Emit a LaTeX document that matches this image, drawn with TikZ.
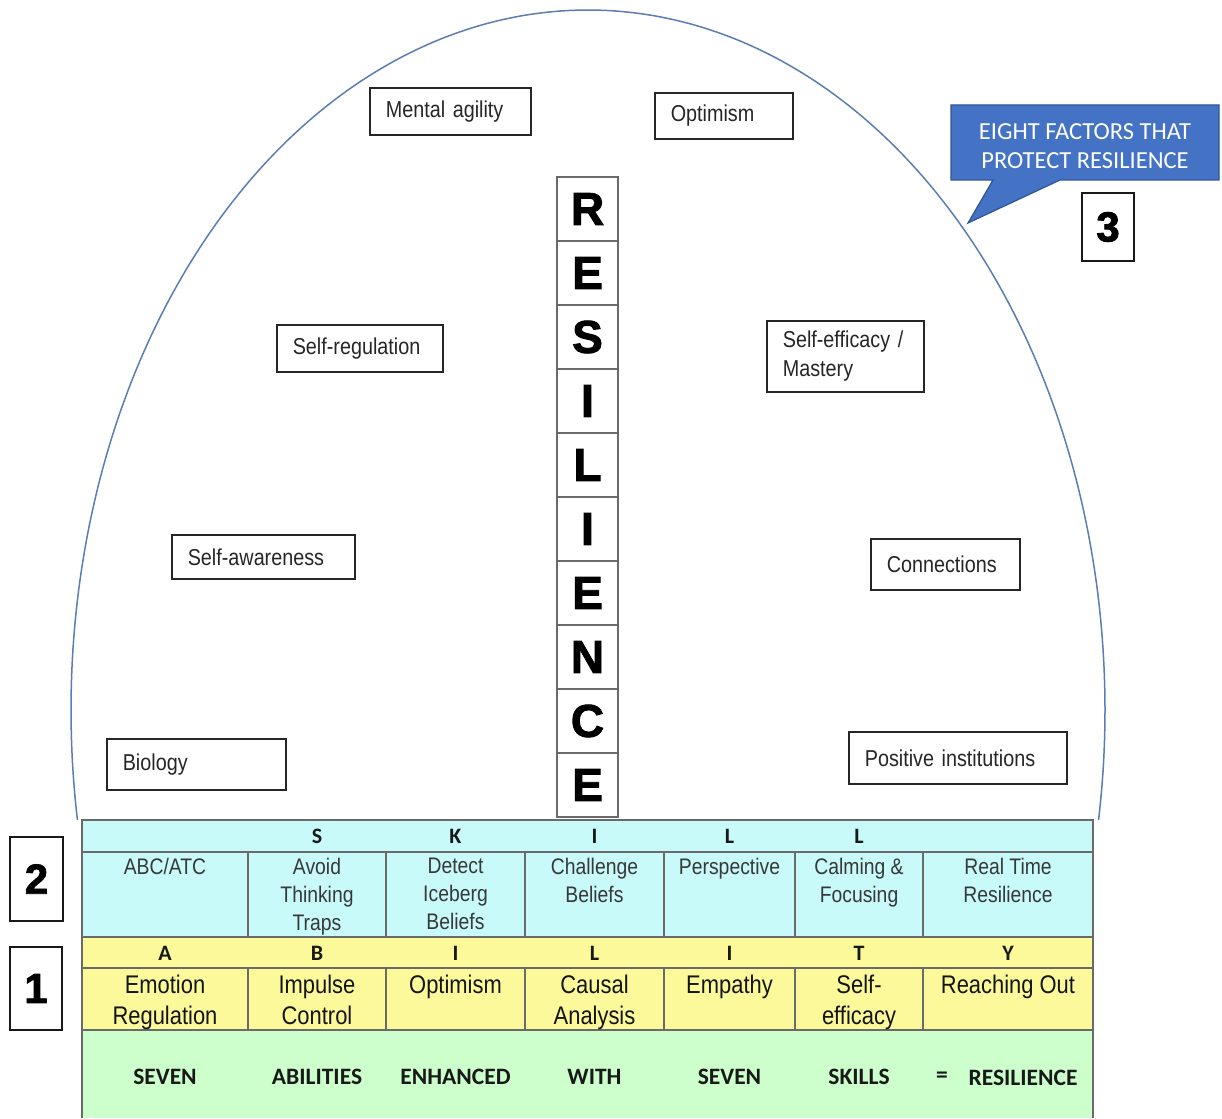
\documentclass[tikz,border=0pt]{standalone}
\usepackage{fontspec}
\setmainfont{Liberation Sans}
\newfontfamily\nar[FakeStretch=0.86]{Liberation Sans}
\newfontfamily\calfont{Carlito}
\newfontfamily\heavy[FakeBold=2]{Liberation Sans Bold}
\definecolor{archblue}{HTML}{5B7DB1}
\definecolor{callfill}{HTML}{4472C4}
\definecolor{callline}{HTML}{2F5597}
\definecolor{skillcyan}{HTML}{C8FAFA}
\definecolor{abilyellow}{HTML}{FCF99A}
\definecolor{sumgreen}{HTML}{CCFFCC}
\definecolor{gridgray}{HTML}{6A6A6A}
\tikzset{
  fbox/.style={draw=black!85, line width=1.6pt, fill=white, inner xsep=16pt, inner ysep=0pt,
    align=left, anchor=north west, font=\nar\fontsize{23}{29}\selectfont, text=black!85},
  lettercell/.style={draw=gridgray, line width=1.5pt, fill=white, minimum width=61pt,
    minimum height=64pt, inner sep=0pt, font=\heavy\fontsize{46}{46}\selectfont},
  numbox/.style={draw=black!90, line width=1.8pt, fill=white, inner sep=0pt,
    font=\heavy\fontsize{42}{42}\selectfont},
  hdrletter/.style={inner sep=0pt, font=\calfont\bfseries\fontsize{22}{22}\selectfont, text=black!90},
  skilltxt/.style={inner sep=0pt, anchor=north, align=center, font=\nar\fontsize{22.5}{28}\selectfont, text=black!78},
  abiltxt/.style={inner sep=0pt, anchor=north, align=center, font=\nar\fontsize{25.5}{31}\selectfont, text=black!92},
  sumtxt/.style={inner sep=0pt, font=\calfont\bfseries\fontsize{23.5}{23.5}\selectfont, text=black!90},
  gridline/.style={draw=gridgray, line width=1.3pt}
}
\begin{document}
\begin{tikzpicture}[x=1pt,y=-1pt]
\useasboundingbox (0,0) rectangle (1222,1118);
% arch
\draw[archblue, line width=1.5pt] plot[domain=170.96:369.04, samples=240, smooth]
  ({588+517*cos(\x)}, {710+700*sin(\x)});

% factor boxes
\node[fbox, text width=129pt, minimum height=47pt] (ment) at (369,87) {Mental agility};
\node[fbox, text width=106pt, minimum height=46pt] (opt) at (654,92) {Optimism};
\node[fbox, text width=134pt, minimum height=47pt] (sreg) at (276,324) {Self-regulation};
\node[fbox, text width=125pt, minimum height=71pt] (seff) at (766,320) {Self-efficacy /\\Mastery};
\node[fbox, text width=151pt, minimum height=44pt] (saw) at (171,534) {Self-awareness};
\node[fbox, text width=117pt, minimum height=51pt] (conn) at (870,538) {Connections};
\node[fbox, text width=147pt, minimum height=51pt] (bio) at (106,738) {Biology};
\node[fbox, text width=186pt, minimum height=52pt] (posi) at (848,731) {Positive institutions};

% RESILIENCE column
\foreach \L [count=\i] in {R,E,S,I,L,I,E,N,C,E}{
  \node[lettercell] (r\i) at (587.5,{209+64*(\i-1)}) {\L};
}

% callout
\draw[fill=callfill, draw=callline, line width=1.2pt]
  (951,105) -- (1219,105) -- (1219,180) -- (1060,180) -- (968,223) -- (993,180) -- (951,180) -- cycle;
\node[inner sep=0pt, align=center, text=white, font=\calfont\fontsize{24.5}{29}\selectfont] (callout) at (1085,146) {EIGHT FACTORS THAT\\PROTECT RESILIENCE};

% numbered boxes
\node[numbox, minimum width=52pt, minimum height=68pt] (n3) at (1108,227) {3};
\node[numbox, minimum width=53pt, minimum height=84pt] (n2) at (36.5,879) {2};
\node[numbox, minimum width=52pt, minimum height=83pt] (n1) at (36,988.5) {1};

% table fills
\fill[skillcyan] (82,820) rectangle (1093,937);
\fill[abilyellow] (82,937) rectangle (1093,1030);
\fill[sumgreen] (82,1030) rectangle (1093,1118);
% table lines
\draw[gridline] (82,1118) -- (82,820) -- (1093,820) -- (1093,1118);
\foreach \yy in {852,937,968,1030}{ \draw[gridline] (82,\yy) -- (1093,\yy); }
\foreach \xx in {248,386,525,664,795,923}{
  \draw[gridline] (\xx,852) -- (\xx,937);
  \draw[gridline] (\xx,968) -- (\xx,1030);
}

% header letters
\foreach \cx/\L [count=\i] in {317/S,455.5/K,594.5/I,729.5/L,859/L}{
  \node[hdrletter] (sk\i) at (\cx,836.5) {\L};
}
\foreach \cx/\L [count=\i] in {165/A,317/B,455.5/I,594.5/L,729.5/I,859/T,1008/Y}{
  \node[hdrletter] (ab\i) at (\cx,953) {\L};
}

% skills row
\node[skilltxt] (s1) at (165,858) {ABC/ATC};
\node[skilltxt] (s2) at (317,858) {Avoid\\Thinking\\Traps};
\node[skilltxt] (s3) at (455.5,858) {Detect\\Iceberg\\Beliefs};
\node[skilltxt] (s4) at (594.5,858) {Challenge\\Beliefs};
\node[skilltxt] (s5) at (729.5,858) {Perspective};
\node[skilltxt] (s6) at (859,858) {Calming \&\\Focusing};
\node[skilltxt] (s7) at (1008,858) {Real Time\\Resilience};

% abilities row
\node[abiltxt] (a1) at (165,975) {Emotion\\Regulation};
\node[abiltxt] (a2) at (317,975) {Impulse\\Control};
\node[abiltxt] (a3) at (455.5,975) {Optimism};
\node[abiltxt] (a4) at (594.5,975) {Causal\\Analysis};
\node[abiltxt] (a5) at (729.5,975) {Empathy};
\node[abiltxt] (a6) at (859,975) {Self-\\efficacy};
\node[abiltxt] (a7) at (1008,975) {Reaching Out};

% summary row
\node[sumtxt] (g1) at (165,1077) {SEVEN};
\node[sumtxt] (g2) at (317,1077) {ABILITIES};
\node[sumtxt] (g3) at (455.5,1077) {ENHANCED};
\node[sumtxt] (g4) at (594.5,1077) {WITH};
\node[sumtxt] (g5) at (729.5,1077) {SEVEN};
\node[sumtxt] (g6) at (859,1077) {SKILLS};
\node[sumtxt] (g7) at (942,1077) {=};
\node[sumtxt] (g8) at (1023,1078) {RESILIENCE};
\end{tikzpicture}
\end{document}
